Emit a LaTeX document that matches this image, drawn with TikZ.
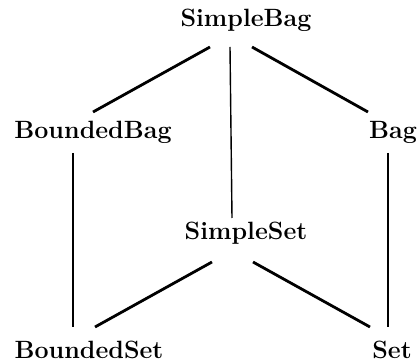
\documentclass[tikz,border=0pt]{standalone}
\begin{document}
\begin{tikzpicture}[x=1pt,y=-1pt,
  lbl/.style={anchor=base,inner sep=0pt,font=\fontsize{25}{30}\selectfont\bfseries},
  thick line/.style={line width=2.8pt},
  thin line/.style={line width=1.4pt}]
\useasboundingbox (0,0) rectangle (420,363);
\node[lbl] (sb) at (246,27) {SimpleBag};
\node[lbl] (bb) at (93,139) {BoundedBag};
\node[lbl] (b) at (393,139) {Bag};
\node[lbl] (ss) at (246,240) {SimpleSet};
\node[lbl] (bs) at (89,358) {BoundedSet};
\node[lbl] (s) at (392,358) {Set};
\draw[thick line] ([shift={(-36,20)}]sb.base) -- ([shift={(0,-27)}]bb.base);
\draw[thin line] ([shift={(-16,20)}]sb.base) -- ([shift={(-14,-22)}]ss.base);
\draw[thick line] ([shift={(6,20)}]sb.base) -- ([shift={(-25,-27)}]b.base);
\draw[thin line] ([shift={(-20,14)}]bb.base) -- ([shift={(-16,-31)}]bs.base);
\draw[thin line] ([shift={(-5,14)}]b.base) -- ([shift={(-4,-31)}]s.base);
\draw[thick line] ([shift={(-34,22)}]ss.base) -- ([shift={(6,-31)}]bs.base);
\draw[thick line] ([shift={(7,22)}]ss.base) -- ([shift={(-22,-31)}]s.base);
\end{tikzpicture}
\end{document}
